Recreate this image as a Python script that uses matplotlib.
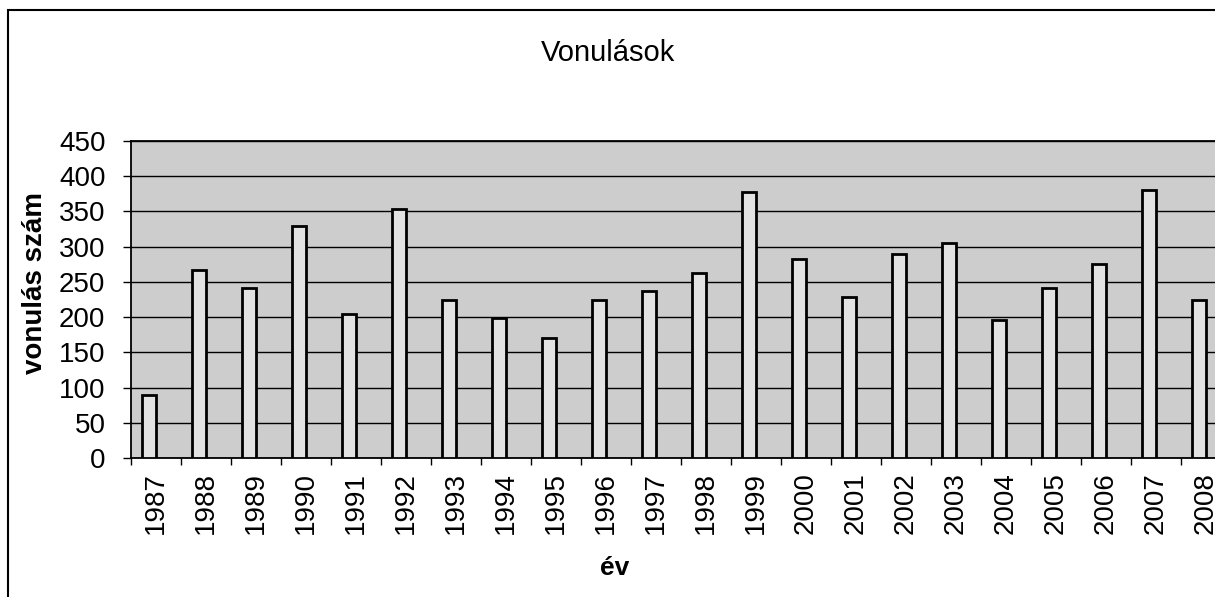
import numpy as np
import matplotlib
matplotlib.use('Agg')
import matplotlib.pyplot as plt
from matplotlib.patches import Rectangle

plt.rcParams['font.family'] = ['Liberation Sans', 'DejaVu Sans']

years = ['1987', '1988', '1989', '1990', '1991', '1992', '1993', '1994', '1995', '1996', '1997',
         '1998', '1999', '2000', '2001', '2002', '2003', '2004', '2005', '2006', '2007', '2008']
vonulas = [90, 267, 242, 329, 205, 354, 224, 199, 170, 224, 237,
           263, 378, 282, 229, 290, 305, 196, 241, 276, 380, 224]

W, H = 1215, 597
fig = plt.figure(figsize=(W / 100, H / 100), dpi=100)

# frame of the chart (right/bottom edges are cut off in the scan)
fig.patches.append(Rectangle((8 / W, -0.1), 1.2, 1 - 10 / H + 0.1, transform=fig.transFigure,
                             fill=False, edgecolor='black', linewidth=1.5))

ax = fig.add_axes([130.5 / W, 139 / H, 1100 / W, 317 / H])
ax.set_facecolor('#cdcdcd')

x = np.arange(len(years))
ax.bar(x - 0.14, vonulas, width=0.28, color='#e2e2e2', edgecolor='black', linewidth=2, zorder=3)

ax.set_xlim(-0.5, len(years) - 0.5)
ax.set_ylim(0, 450)
ax.set_yticks(np.arange(0, 451, 50))
ax.yaxis.grid(True, color='black', linewidth=1.0)
ax.set_axisbelow(True)

ax.set_xticks(x)
ax.set_xticklabels(years, rotation=90, fontsize=20)
ax.set_xticks(np.arange(-0.5, len(years), 1), minor=True)
ax.tick_params(axis='x', which='major', length=0, pad=10)
ax.tick_params(axis='x', which='minor', length=5, direction='out', width=1)
ax.tick_params(axis='y', length=6, direction='out', width=1, labelsize=20, pad=12)

for s in ax.spines.values():
    s.set_linewidth(1.3)
    s.set_color('black')

fig.text(608 / W, 1 - 53 / H, 'Vonulások', ha='center', va='center', fontsize=21)
fig.text(35 / W, 1 - 283 / H, 'vonulás szám', rotation=90, ha='center', va='center',
         fontsize=20, fontweight='bold')
fig.text(615 / W, 1 - 568 / H, 'év', ha='center', va='center', fontsize=19, fontweight='bold')

fig.savefig('out.png', dpi=100)
